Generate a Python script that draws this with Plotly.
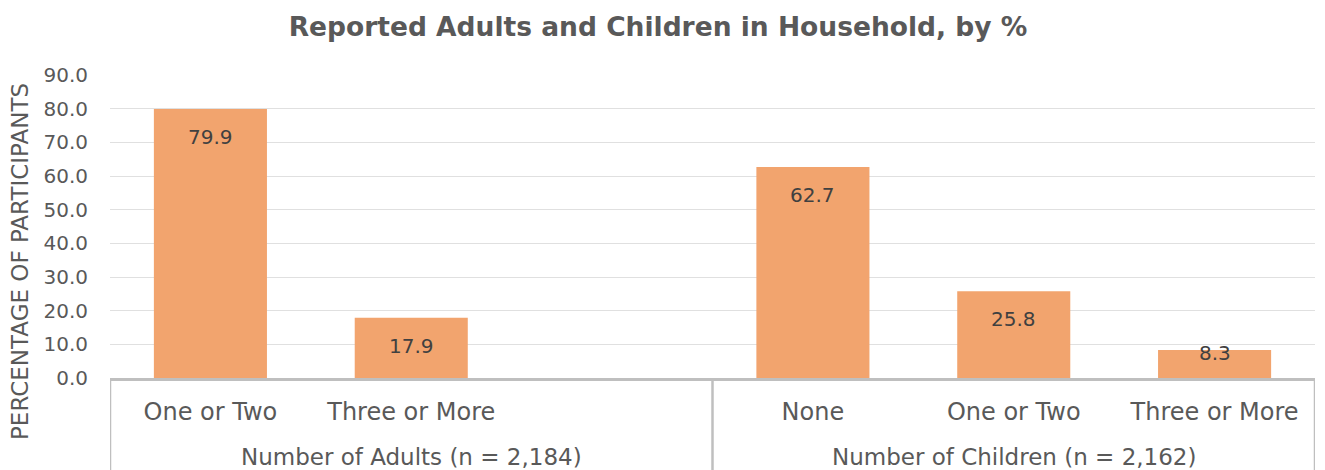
import plotly.graph_objects as go

# Household composition survey results (% of participants)
categories = ["One or Two", "Three or More", "", "None", "One or Two", "Three or More"]
values = [79.9, 17.9, None, 62.7, 25.8, 8.3]
group_names = ["Number of Adults (n = 2,184)", "Number of Children (n = 2,162)"]
group_slots = [(0, 2), (3, 5)]  # first and last slot index of each group
y_ticks = [0, 10, 20, 30, 40, 50, 60, 70, 80, 90]

W, H = 1325, 470
M_L, M_R, M_T, M_B = 110, 10, 75, 92
plot_h = H - M_T - M_B
y_max = 90
px_per_unit = plot_h / y_max

FONT = "DejaVu Sans"
GREY_TXT = "#595959"
LINE_GREY = "#bfbfbf"
BAR_COLOR = "#f2a46e"

x_pos = list(range(len(categories)))

fig = go.Figure()
fig.add_trace(go.Bar(
    x=x_pos,
    y=values,
    marker=dict(color=BAR_COLOR, line=dict(width=0)),
    width=0.563,
    hoverinfo="skip",
    showlegend=False,
))

annotations = []
# value labels near the top end of each bar
for xi, v in zip(x_pos, values):
    if v is None:
        continue
    bar_px = v * px_per_unit
    drop = min(28, bar_px - 25)
    annotations.append(dict(
        x=xi, y=v, xref="x", yref="y", text=f"{v:.1f}", showarrow=False,
        yanchor="middle", yshift=-drop,
        font=dict(family=FONT, size=20, color="#404040"),
    ))

# group labels under the category labels
for name, (a, b) in zip(group_names, group_slots):
    annotations.append(dict(
        x=(a + b) / 2, y=-(457 - (M_T + plot_h)) / plot_h, xref="x", yref="paper",
        text=name, showarrow=False, xanchor="center", yanchor="middle",
        font=dict(family=FONT, size=23, color=GREY_TXT),
    ))

# vertical axis title
annotations.append(dict(
    x=(20 - M_L) / (W - M_L - M_R), y=(M_T + plot_h - 262) / plot_h,
    xref="paper", yref="paper", text="PERCENTAGE OF PARTICIPANTS",
    textangle=-90, showarrow=False, xanchor="center", yanchor="middle",
    font=dict(family=FONT, size=23, color=GREY_TXT),
))

# group divider lines below the axis
shapes = []
bottom_paper = -(H - (M_T + plot_h)) / plot_h
for xb in [group_slots[0][0] - 0.5, group_slots[0][1] + 0.5, group_slots[1][1] + 0.5]:
    shapes.append(dict(
        type="line", xref="x", yref="paper", x0=xb, x1=xb, y0=0, y1=bottom_paper,
        line=dict(color=LINE_GREY, width=2.5), layer="above",
    ))

fig.update_layout(
    width=W, height=H,
    margin=dict(l=M_L, r=M_R, t=M_T, b=M_B),
    paper_bgcolor="white", plot_bgcolor="white",
    title=dict(
        text="<b>Reported Adults and Children in Household, by %</b>",
        x=658 / W, xref="container", xanchor="center",
        y=1 - 27 / H, yref="container", yanchor="middle",
        font=dict(family=FONT, size=26.5, color=GREY_TXT),
    ),
    xaxis=dict(
        range=[-0.5, len(categories) - 0.5],
        tickvals=x_pos, ticktext=categories,
        tickfont=dict(family=FONT, size=24, color=GREY_TXT),
        showgrid=False, zeroline=False,
        showline=True, linecolor=LINE_GREY, linewidth=2.5,
        ticks="", ticklabelstandoff=10, fixedrange=True,
    ),
    yaxis=dict(
        range=[0, y_max], tickvals=y_ticks, tickformat=".1f",
        tickfont=dict(family=FONT, size=20, color=GREY_TXT),
        showgrid=True, gridcolor="#e0e0e0", gridwidth=1,
        zeroline=False, showline=False, ticks="", ticklabelstandoff=21,
        fixedrange=True,
    ),
    bargap=0.437,
    annotations=annotations,
    shapes=shapes,
)

fig.write_html("out.html")
